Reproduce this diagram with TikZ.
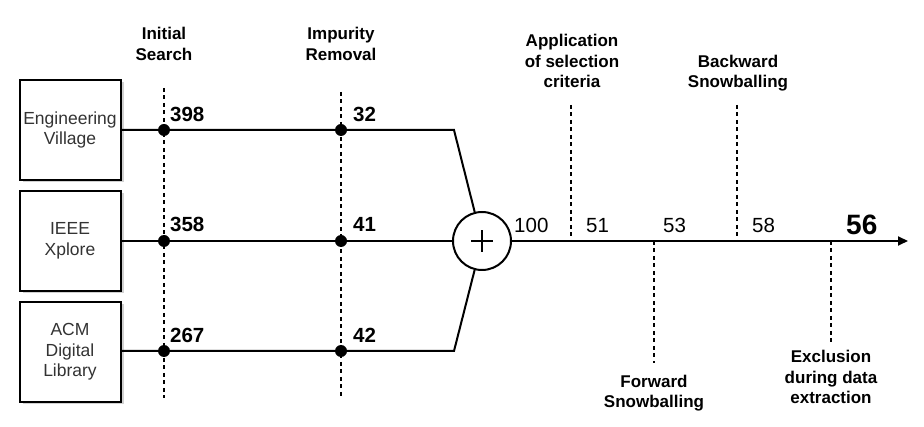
\documentclass[tikz,border=0pt]{standalone}
\usepackage{fontspec}
\setmainfont{Liberation Sans}
\usetikzlibrary{arrows.meta}
\begin{document}
\begin{tikzpicture}[x=1pt,y=-1pt,
  dbbox/.style={draw,line width=2pt,minimum width=101pt,minimum height=100pt,inner sep=0pt,align=center,
     font=\fontsize{17.5}{20.5}\selectfont,text=black!80},
  dot/.style={circle,fill=black,minimum size=12pt,inner sep=0pt},
  sumc/.style={circle,draw,line width=2pt,minimum size=58pt,inner sep=0pt},
  flow/.style={line width=2pt},
  dashv/.style={line width=1.8pt,dash pattern=on 4pt off 3.5pt},
  stagelbl/.style={align=center,font=\fontsize{17}{20.5}\selectfont\bfseries,inner sep=0pt},
  numl/.style={anchor=base west,inner sep=0pt,font=\fontsize{20.5}{20}\selectfont\bfseries},
  numr/.style={anchor=base west,inner sep=0pt,font=\fontsize{20.5}{20}\selectfont}
]
\useasboundingbox (0,0) rectangle (924,427);
% shadows of boxes
\foreach \yy in {130,241,352}{
  \fill[black!18] (22.5,\yy-47.5) rectangle (123.5,\yy+52.5);
}
% boxes
\node[dbbox,fill=white] (ev) at (70,130) {Engineering\\Village};
\node[dbbox,fill=white] (ie) at (70,241) {IEEE\\Xplore};
\node[dbbox,fill=white] (acm) at (70,352) {ACM\\Digital\\Library};
% dashed lines (left)
\coordinate (is1) at (164,88);
\coordinate (is2) at (164,398);
\coordinate (ir1) at (341,92);
\coordinate (ir2) at (341,398);
\draw[dashv] (is1) -- (is2);
\draw[dashv] (ir1) -- (ir2);
% dots
\node[dot] (a1) at (164,130) {};
\node[dot] (a2) at (164,241) {};
\node[dot] (a3) at (164,351) {};
\node[dot] (b1) at (341,130) {};
\node[dot] (b2) at (341,241) {};
\node[dot] (b3) at (341,351) {};
% sum
\node[sumc] (sum) at (482,241) {};
\draw[line width=1.8pt] ([xshift=-11pt]sum.center) -- ([xshift=11pt]sum.center)
  ([yshift=-11pt]sum.center) -- ([yshift=11pt]sum.center);
\coordinate (j1) at (454,130);
\coordinate (j3) at (454,351);
\draw[flow] (ev.east) -- (a1) -- (b1) -- (j1) -- (sum);
\draw[flow] (ie.east) -- (a2) -- (b2) -- (sum.west);
\draw[flow] (acm.east |- a3) -- (a3) -- (b3) -- (j3) -- (sum);
% main arrow
\coordinate (end) at (908,241);
\draw[flow,-{Triangle[length=10pt,width=9pt]}] (sum.east) -- (end);
% right dashed lines
\coordinate (c1) at (571,105);
\coordinate (c1b) at (571,241);
\coordinate (f1) at (654,241);
\coordinate (f1b) at (654,363);
\coordinate (bw1) at (737,105);
\coordinate (bw1b) at (737,241);
\coordinate (ex1) at (831,241);
\coordinate (ex1b) at (831,343);
\draw[dashv] (c1) -- (c1b);
\draw[dashv] (f1) -- (f1b);
\draw[dashv] (bw1) -- (bw1b);
\draw[dashv] (ex1) -- (ex1b);
% stage labels
\node[stagelbl] (lis) at (164,44) {Initial\\Search};
\node[stagelbl] (lir) at (341,44) {Impurity\\Removal};
\node[stagelbl] (lap) at (572,61) {Application\\of selection\\criteria};
\node[stagelbl] (lbw) at (738,73) {Backward\\Snowballing};
\node[stagelbl] (lfw) at (654,393) {Forward\\Snowballing};
\node[stagelbl] (lex) at (831,377) {Exclusion\\during data\\extraction};
% numbers
\node[numl] (n398) at (170,122) {398};
\node[numl] (n358) at (170,232) {358};
\node[numl] (n267) at (170,343) {267};
\node[numl] (n32) at (353,122) {32};
\node[numl] (n41) at (353,232) {41};
\node[numl] (n42) at (353,343) {42};
\node[numr] (n100) at (514,233) {100};
\node[numr] (n51) at (586,233) {51};
\node[numr] (n53) at (663,233) {53};
\node[numr] (n58) at (752,233) {58};
\node[anchor=base west,inner sep=0pt,font=\fontsize{28}{28}\selectfont\bfseries] (n56) at (846,235) {56};
\end{tikzpicture}
\end{document}
